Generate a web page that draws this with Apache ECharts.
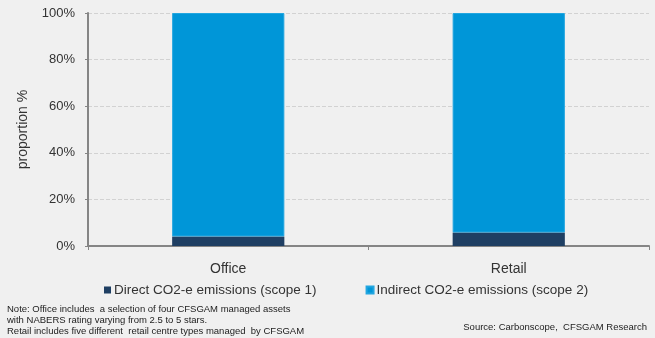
<!DOCTYPE html>
<html>
<head>
<meta charset="utf-8">
<script src="https://cdn.jsdelivr.net/npm/echarts@6/dist/echarts.min.js"></script>
<style>
  html, body { margin: 0; padding: 0; background: #f0f0f0; }
  #chart { width: 655px; height: 338px; }
</style>
</head>
<body>
<div id="chart"></div>
<script>
// Building types on the x axis
const categories = ['Office', 'Retail'];
// Share of emissions by scope, in percent
const directScope1 = [4.1, 5.8];
const indirectScope2 = [95.9, 94.2];
const seriesNames = ['Direct CO2-e emissions (scope 1)', 'Indirect CO2-e emissions (scope 2)'];
const yTicks = [0, 20, 40, 60, 80, 100];

const noteLines = [
  'Note: Office includes  a selection of four CFSGAM managed assets',
  'with NABERS rating varying from 2.5 to 5 stars.',
  'Retail includes five different  retail centre types managed  by CFSGAM'
];
const sourceText = 'Source: Carbonscope,  CFSGAM Research';

const font = 'Arial, "Liberation Sans", sans-serif';
const chart = echarts.init(document.getElementById('chart'));

chart.setOption({
  backgroundColor: '#f0f0f0',
  animation: false,
  textStyle: { fontFamily: font },
  grid: { left: 88, right: 6, top: 13, bottom: 92 },
  legend: {
    left: 99,
    top: 278,
    icon: 'rect',
    itemWidth: 7,
    itemHeight: 7,
    itemGap: 49,
    textStyle: { fontSize: 13.5, color: '#333', fontFamily: font, padding: [0, 0, 0, -2] },
    data: seriesNames
  },
  xAxis: {
    type: 'category',
    data: categories,
    axisLine: { lineStyle: { color: '#858585', width: 2 } },
    axisTick: { show: true, length: 4, lineStyle: { color: '#858585' } },
    axisLabel: { fontSize: 14, color: '#333', margin: 16 }
  },
  yAxis: {
    type: 'value',
    min: yTicks[0],
    max: yTicks[yTicks.length - 1],
    interval: 20,
    name: 'proportion %',
    nameLocation: 'middle',
    nameGap: 58,
    nameTextStyle: { fontSize: 14, color: '#333' },
    axisLine: { show: true, lineStyle: { color: '#858585', width: 2 } },
    axisTick: { show: true, length: 3, lineStyle: { color: '#858585' } },
    axisLabel: { fontSize: 13, color: '#333', margin: 13, formatter: v => v + '%' },
    splitLine: { lineStyle: { color: '#d2d2d2', type: [4, 2] } }
  },
  series: [
    {
      name: seriesNames[0],
      type: 'bar',
      stack: 'total',
      barWidth: '40%',
      data: directScope1,
      itemStyle: { color: '#1f3f63' }
    },
    {
      name: seriesNames[1],
      type: 'bar',
      stack: 'total',
      barWidth: '40%',
      data: indirectScope2,
      itemStyle: { color: '#0096d8', borderColor: '#22a6e0', borderWidth: 1 }
    }
  ],
  graphic: [
    ...noteLines.map((t, i) => ({
      type: 'text',
      x: 7,
      y: 309 + i * 11,
      style: { text: t, fontSize: 9.5, fill: '#222', fontFamily: font, verticalAlign: 'middle' }
    })),
    {
      type: 'text',
      right: 8,
      top: 322,
      style: { text: sourceText, fontSize: 9.5, fill: '#222', fontFamily: font }
    }
  ]
});
</script>
</body>
</html>
